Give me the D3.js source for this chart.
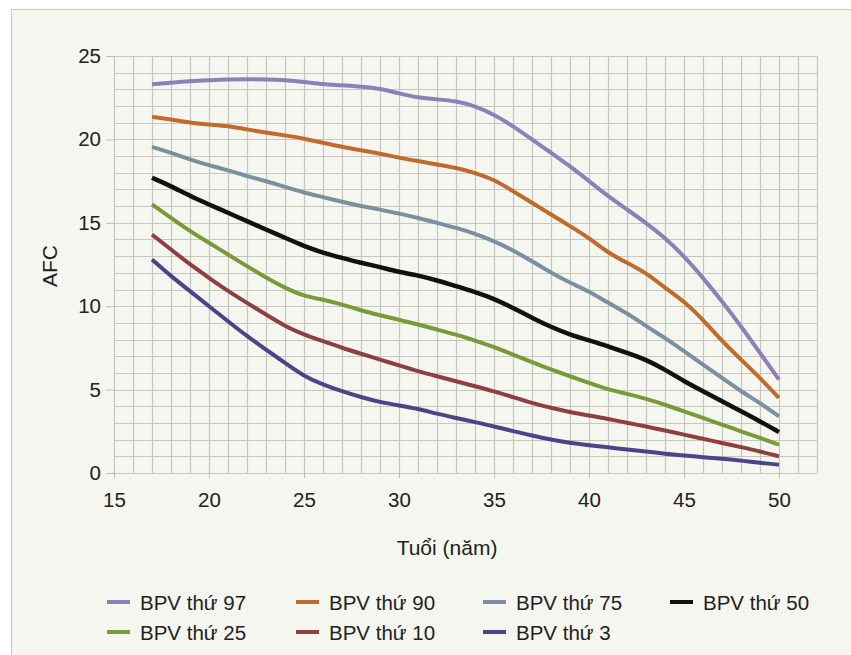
<!DOCTYPE html>
<html lang="vi">
<head>
<meta charset="UTF-8">
<title>AFC theo tuổi</title>
<style>
  body { margin: 0; background: #fff; }
  svg text { font-family: "Liberation Sans", Arial, sans-serif; fill: #222; }
</style>
</head>
<body>
<svg id="chart" width="851" height="655"></svg>
<script src="https://d3js.org/d3.v7.min.js"></script>
<script>
// ages (years) at which each percentile curve was read
const ages = [17,18,19,20,21,22,23,24,25,26,27,28,29,30,31,32,33,34,35,36,37,38,39,40,41,42,43,44,45,46,47,48,49,50];

const p97 = [23.3,23.4,23.5,23.55,23.6,23.6,23.6,23.55,23.45,23.3,23.25,23.15,23.05,22.75,22.5,22.4,22.3,22.0,21.5,20.8,20.0,19.2,18.4,17.5,16.6,15.8,15.0,14.1,13.0,11.7,10.3,8.8,7.2,5.6];
const p90 = [21.35,21.2,21.0,20.9,20.8,20.6,20.4,20.25,20.05,19.8,19.55,19.35,19.15,18.9,18.7,18.5,18.3,18.0,17.6,16.9,16.2,15.5,14.8,14.1,13.2,12.6,12.0,11.1,10.3,9.2,7.9,6.8,5.7,4.5];
const p75 = [19.55,19.2,18.8,18.45,18.15,17.8,17.5,17.15,16.8,16.55,16.25,16.0,15.8,15.55,15.3,15.0,14.7,14.35,13.9,13.35,12.7,12.0,11.4,10.9,10.2,9.6,8.8,8.1,7.3,6.5,5.7,4.9,4.2,3.4];
const p50 = [17.7,17.2,16.6,16.1,15.6,15.1,14.6,14.1,13.6,13.2,12.9,12.6,12.35,12.05,11.85,11.55,11.2,10.85,10.45,9.9,9.3,8.75,8.3,7.95,7.6,7.2,6.8,6.2,5.5,4.9,4.3,3.7,3.1,2.45];
const p25 = [16.1,15.3,14.5,13.8,13.1,12.4,11.7,11.1,10.6,10.4,10.1,9.75,9.45,9.2,8.9,8.6,8.3,7.95,7.55,7.1,6.65,6.2,5.8,5.4,5.0,4.75,4.45,4.1,3.7,3.3,2.9,2.5,2.1,1.7];
const p10 = [14.3,13.4,12.5,11.7,10.9,10.2,9.5,8.8,8.3,7.9,7.5,7.15,6.8,6.45,6.1,5.8,5.5,5.2,4.9,4.55,4.2,3.9,3.65,3.45,3.25,3.0,2.8,2.55,2.3,2.05,1.8,1.55,1.3,1.0];
const p3  = [12.8,11.8,10.9,10.0,9.1,8.2,7.4,6.6,5.8,5.3,4.9,4.55,4.25,4.05,3.85,3.55,3.3,3.05,2.8,2.5,2.25,2.0,1.8,1.65,1.55,1.4,1.3,1.15,1.05,0.95,0.85,0.75,0.6,0.5];

const seriesNames = ['BPV thứ 97','BPV thứ 90','BPV thứ 75','BPV thứ 50','BPV thứ 25','BPV thứ 10','BPV thứ 3'];
const seriesValues = [p97, p90, p75, p50, p25, p10, p3];
const seriesColors = ['#8d80b8','#c26a2c','#7b8fa0','#111111','#7a9a38','#8e3f42','#4a4488'];

const xTicks = [15,20,25,30,35,40,45,50];
const yTicks = [0,5,10,15,20,25];

const svg = d3.select('#chart');

// panel background
svg.append('rect')
    .attr('x', 11.5).attr('y', 9.5)
    .attr('width', 860).attr('height', 660)
    .attr('fill', '#f4f6ef')
    .attr('stroke', '#c9cac4');

const x = d3.scaleLinear().domain([15, 52]).range([114, 817]);
const y = d3.scaleLinear().domain([0, 25]).range([473, 56]);

// grid: one line per year and per unit
const grid = svg.append('g').attr('stroke', '#c6c8bf').attr('stroke-width', 1.2);
grid.selectAll('line.v')
    .data(d3.range(15, 53))
    .join('line')
    .attr('x1', d => Math.round(x(d)) + 0.5).attr('x2', d => Math.round(x(d)) + 0.5)
    .attr('y1', y(25)).attr('y2', y(0));
grid.selectAll('line.h')
    .data(d3.range(0, 26))
    .join('line')
    .attr('x1', x(15)).attr('x2', x(52))
    .attr('y1', d => Math.round(y(d)) + 0.5).attr('y2', d => Math.round(y(d)) + 0.5);

// axes
const yAxis = svg.append('g')
    .attr('transform', `translate(${x(15)},0)`)
    .call(d3.axisLeft(y).tickValues(yTicks).tickSize(8).tickPadding(5));
const xAxis = svg.append('g')
    .attr('transform', `translate(0,${y(0)})`)
    .call(d3.axisBottom(x).tickValues(xTicks).tickSize(5).tickPadding(14));
[xAxis, yAxis].forEach(g => {
    g.select('.domain').remove();
    g.selectAll('.tick line').attr('stroke', '#b9bab3');
    g.selectAll('.tick text').style('font-size', '20.5px').attr('fill', '#222');
});

// axis titles
svg.append('text')
    .attr('x', 447).attr('y', 555)
    .attr('text-anchor', 'middle')
    .style('font-size', '21px')
    .text('Tuổi (năm)');
svg.append('text')
    .attr('transform', 'translate(57,266) rotate(-90)')
    .attr('text-anchor', 'middle')
    .style('font-size', '21px')
    .text('AFC');

// curves
const line = d3.line()
    .x((d, i) => x(ages[i]))
    .y(d => y(d))
    .curve(d3.curveBasis);

svg.append('g')
    .selectAll('path')
    .data(seriesValues)
    .join('path')
    .attr('fill', 'none')
    .attr('stroke', (d, i) => seriesColors[i])
    .attr('stroke-width', (d, i) => i === 3 ? 4.5 : 4)
    .attr('stroke-linejoin', 'round')
    .attr('d', line);

// legend, 4 columns x 2 rows
const legendCols = [107, 296, 483, 670];
const legendRows = [602, 632];
const legend = svg.append('g')
    .selectAll('g')
    .data(seriesNames)
    .join('g')
    .attr('transform', (d, i) => `translate(${legendCols[i % 4]},${legendRows[Math.floor(i / 4)]})`);
legend.append('line')
    .attr('x1', 0).attr('x2', 23)
    .attr('stroke', (d, i) => seriesColors[i])
    .attr('stroke-width', 4);
legend.append('text')
    .attr('x', 33).attr('y', 8)
    .style('font-size', '20.5px')
    .text(d => d);
</script>
</body>
</html>
